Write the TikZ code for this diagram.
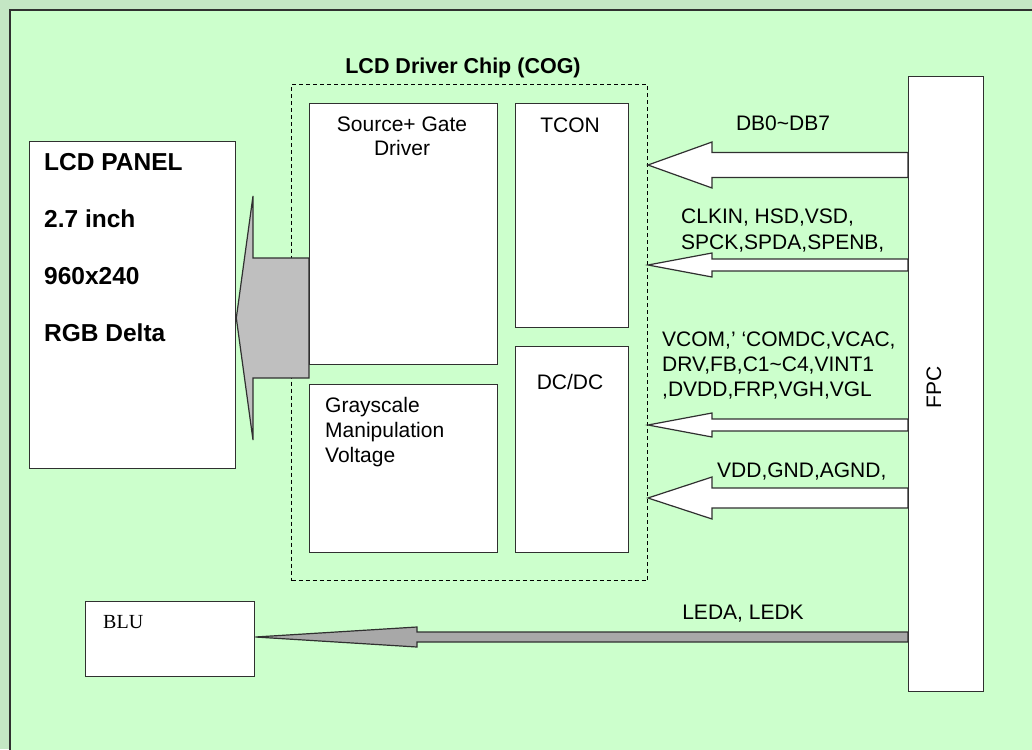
\documentclass[tikz,border=0pt]{standalone}
\usepackage{fontspec}
\setmainfont{Liberation Sans}
\newfontfamily\blufont{Liberation Serif}
\usetikzlibrary{positioning}

\definecolor{pagegreen}{HTML}{CCFFCC}
\definecolor{edgegreen}{HTML}{C4E6C4}
\definecolor{boxline}{HTML}{303030}

\begin{document}
\begin{tikzpicture}[x=1pt, y=-1pt,
  every node/.style={font=\fontsize{21}{24}\selectfont, inner sep=0pt},
  box/.style={draw=boxline, line width=1.3pt, fill=white, anchor=north west},
  chipbox/.style={draw=black, line width=1pt, dash pattern=on 4pt off 3pt, anchor=north west},
  inarrow/.style={draw=boxline, line width=1.2pt, fill=white, line join=miter},
  grayarrow/.style={inarrow, fill=black!25},
  ledarrow/.style={inarrow, fill=black!34},
  bold/.style={font=\bfseries\fontsize{21.5}{24}\selectfont}]
\useasboundingbox (0,0) rectangle (1032,749);
\fill[edgegreen] (0,0) rectangle (1032,749);
\fill[pagegreen] (10,10) rectangle (1040,760);
\draw[boxline, line width=2pt] (10,760) -- (10,10) -- (1040,10);

\node[chipbox, minimum width=356pt, minimum height=496pt] (chip) at (291,84) {};
\node[bold, anchor=base] (title) at (463,74) {LCD Driver Chip (COG)};

\node[box, minimum width=206pt, minimum height=327pt] (lcd) at (29,141) {};
\node[font=\bfseries\fontsize{24.5}{57}\selectfont, align=left, anchor=north west] (lcdtext) at (44,153)
  {LCD PANEL\\2.7 inch\\960x240\\RGB Delta};

\draw[grayarrow] (lcd.east |- 0,318) -- (253,196) -- (253,258) -- (309,258)
  -- (309,378) -- (253,378) -- (253,440) -- cycle;

\node[box, minimum width=188pt, minimum height=261pt] (src) at (309,103) {};
\node[box, minimum width=188pt, minimum height=168pt] (gray) at (309,384) {};
\node[box, minimum width=113pt, minimum height=224pt] (tcon) at (515,103) {};
\node[box, minimum width=113pt, minimum height=206pt] (dcdc) at (515,346) {};
\node[align=center, anchor=north, font=\fontsize{21}{23.5}\selectfont] (srctext) at (402,117) {Source+ Gate\\Driver};
\node[align=left, anchor=north west, font=\fontsize{21}{25}\selectfont] (graytext) at (325,397) {Grayscale\\Manipulation\\Voltage};
\node[anchor=base] (tcontext) at (570,132) {TCON};
\node[anchor=base] (dcdctext) at (570,389) {DC/DC};

\foreach \y/\h/\s in {165/23/12.5, 265/12/6, 425/12/6, 498/21/10}
  \draw[inarrow] (chip.east |- 0,\y) -- (712,\y-\h) -- (712,\y-\s) -- (908,\y-\s)
    -- (908,\y+\s) -- (712,\y+\s) -- (712,\y+\h) -- cycle;

\node[anchor=base] (db) at (783,131) {DB0\textasciitilde DB7};
\node[align=left, anchor=north west, font=\fontsize{21}{26}\selectfont] (clk) at (681,209)
  {CLKIN, HSD,VSD,\\SPCK,SPDA,SPENB,};
\node[align=left, anchor=north west, font=\fontsize{21}{25}\selectfont] (vcom) at (662,331.5)
  {VCOM,' `COMDC,VCAC,\\DRV,FB,C1\textasciitilde C4,VINT1\\,DVDD,FRP,VGH,VGL};
\node[anchor=base west] (vdd) at (717,477) {VDD,GND,AGND,};

\node[box, minimum width=169pt, minimum height=75pt] (blu) at (85,601) {};
\node[font=\blufont\fontsize{20}{24}\selectfont, anchor=base west] (blutext) at (103,628) {BLU};
\draw[ledarrow] (blu.east |- 0,637) -- (417,627) -- (417,632) -- (908,632)
  -- (908,642) -- (417,642) -- (417,647) -- cycle;
\node[anchor=base] (led) at (743,619) {LEDA, LEDK};

\node[box, minimum width=75pt, minimum height=615pt] (fpc) at (908,76) {};
\node[rotate=90, anchor=base] (fpctext) at (941,387) {FPC};
\end{tikzpicture}
\end{document}
